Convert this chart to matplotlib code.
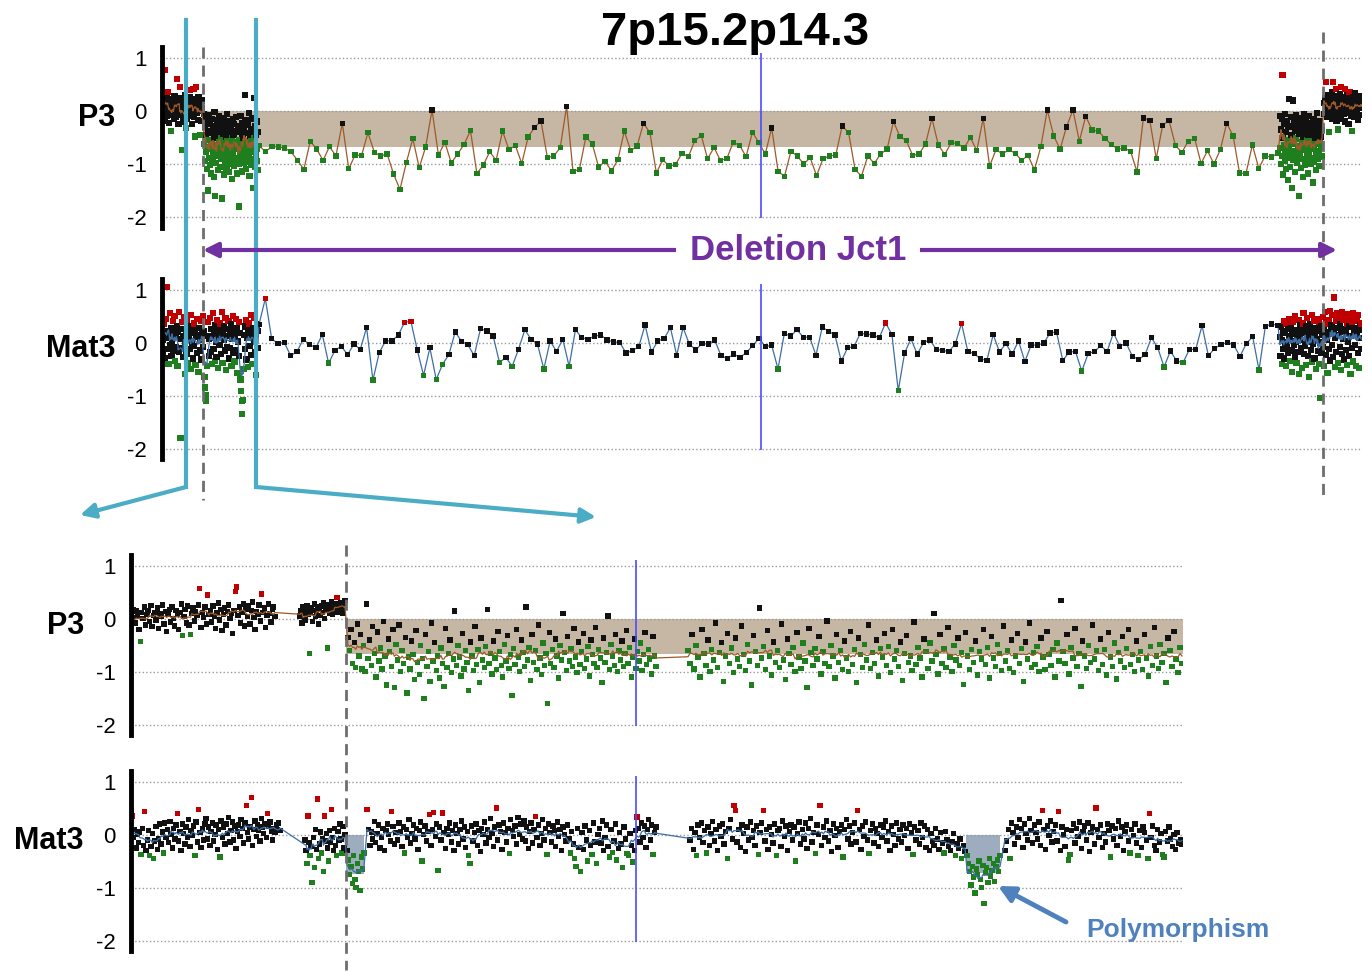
import numpy as np
import pandas as pd
import matplotlib
matplotlib.use('Agg')
import matplotlib.pyplot as plt
from matplotlib.lines import Line2D
from matplotlib.patches import FancyArrowPatch

plt.rcParams['font.family'] = ['Liberation Sans', 'DejaVu Sans']

# ---------------------------------------------------------------
# Datos: log2 ratio x100, leidos a ojo de la figura
# posiciones en unidades relativas (panel superior 0-1200, zoom 0-1052)
# ---------------------------------------------------------------
TOP_XLIM = (0, 1200)
ZOOM_XLIM = (0, 1052)
DEL_TOP = (41, 1161)          # bordes de la delecion (panel superior)
DEL_ZOOM = (215, 1052)        # borde de la delecion (zoom)
ZOOM_WIN = (24, 94)           # ventana ampliada abajo
CENTRE_TOP = 599
CENTRE_ZOOM = 505
DEL_ARROW = (41, 1175)
POLY_REGIONS = [(215, 233, -0.75), (835, 869, -0.73)]
BAND = (-0.67, 0.0)

# --- P3 superior ---
p3_top_n1 = [12, -5, 20, 3, -18, 77, 8, -10, 25, 36, -2, 15, -22, 5, 18, -37, 10, -8, 22, 0,
             -15, 28, 6, -12, 14, 60, -3, 19, -25, 9, 46, 2, -7, 24, -73, 11, -20, 16, 4, 30,
             -6, -32, 13, -14, 21, 7, -1, 26, 39, -9, 17, -24, 10, 3, 41, -11, 23, -48, 8, 46,
             -4, 15, -17, 27, 1, -45, 12, -19, 20, 5]
p3_top_d1 = [-5, -62, -30, -95, -12, -78, -45, -110, -20, -68, -150, -38, -88, -8, -55, -102, -25, -72,
             -118, -42, -60, -15, -92, -35, -80, -125, -50, -2, -70, -160, -28, -98, -48, -65, -18, -85,
             -112, -40, -58, -10, -76, -32, -105, -52, -22, -90, -66, -165, -44, -82, -14, -120, -36, -62,
             -96, -26, -74, -48, -108, -6, -56, -86, -30, -70, -115, -42, -100, -20, -64, -90, -34, -78,
             -128, -52, -16, -82, -46, -104, -24, -68, -38, -94, -58, -12, -88, -118, -40, -72, -28, -100,
             -54, -180, -36, -80, -10, -62, -92, -44, -114, -22, -76, -50, -98, -32, -66, 30, -86, -18,
             -58, -110, -42, -74, -26, -96, -60, -4, -84, -122, -48, -70, -34, -102, -56, -14, -90, -38,
             -78, -145, -52, 25, -66, -106, -28, -82, -46, -94, -20, -72, -112, -40]
p3_top_sparse = [-65, -77, -67, -68, -70, -77, -93, -110, -57, -72, -93, -67, -85, -23, -109, -83, -84, -41,
                 -78, -85, -81, -119, -148, -97, -52, -107, -68, 2, -83, -59, -98, -81, -63, -37, -118, -102,
                 -77, -93, -38, -73, -65, -99, -49, -31, -19, -88, -85, -69, 9, -114, -110, -49, -62,
                 -106, -95, -113, -92, -38, -75, -66, -23, -41, -117, -92, -104, -101, -80, -86, -56, -46,
                 -90, -69, -93, -90, -59, -65, -86, -40, -60, -81, -32, -114, -123, -76, -85, -100, -88,
                 -122, -90, -85, -83, -28, -41, -110, -123, -85, -99, -81, -72, -20, -48, -56, -84, -81,
                 -62, -14,
                 -64, -82, -60, -61, -70, -50, -75, -14, -104, -73, -81, -73, -80, -93, -84, -111, -67, 2,
                 -47, -72, -30, 2, -57, -10, -36, -38, -52, -63, -72, -70, -76, -115, -13, -18, -90, -27,
                 -18, -65, -78, -57, -52, -99, -75, -100, -73, -23, -47, -117, -118, -64, -108, -85, -87, -79]
p3_top_d2 = [-10, -70, -35, -100, -15, -85, 68, -50, -120, -25, -65, -95, -5, -78, -40, -110, -20, -88,
             -55, -130, -30, -72, 22, -60, -105, -12, -82, -45, -145, -28, 20, -92, -62, -18, -76, -38,
             -115, -52, -8, -86, -32, -98, -66, -22, -160, -44, -80, -14, -70, -108, -36, -58, -90, -26,
             -125, -48, -6, -74, -102, -40, -64, -18, -94, -54, -84, -30, -118, -46, -10, -78, -68, -34,
             -100, -56, -22, -88, -42, -135, -60, -16, -72, -96, -38, -50, -112, -26, -82, -62, -4, -90,
             -44, -76, -32, -104, -58, -20, -70, -48, -86, -36]
p3_top_n2 = [15, -5, 25, 8, 54, -12, 20, 2, 30, -40, 12, -8, 22, 5, 35, -15, 18, 54, 0, 28,
             -10, 10, 41, -18, 24, 6, -35, 16, -2, 32, 9, 45, -14, 20, 4, 27, -6, 13, 41, -20,
             22, 7, 30, -4, 11, -25, 18, 36, 1, 24, -9, 14, -38, 26, 3, 19, -12, 33, 8, 17,
             -1, 23, 10, -16, 29, 5, 21, -7, 15, 12]

# --- Mat3 superior ---
m3_top_d1 = [5, -20, 35, 12, -30, 8, 45, 105, -12, 22, -40, 15, 55, -5, 28, -25, 0, 40, -15, 18,
             50, -35, 10, -8, 30, -45, 20, 58, -18, 6, -180, 25, -10, 38, -28, 12, 48, -60, 2, 20,
             -22, 42, 15, -38, 8, -12, 30, -50, 52, 0, 18, -30, 36, -6, 24, -42, 10, 44, -20, 14,
             -55, 28, 5, -15, 40, -32, 16, 50, -8, 22, -65, -85, -100, -110, -45, 12, 38, -25, 6, 46,
             -18, 26, -40, 8, 55, -12, 20, -35, 32, 2, -28, 42, 14, -48, 24, -5, 36, -22, 10, 58,
             -38, 18, 4, 30, -15, 46, -52, 12, -8, 26, 40, -30, 16, -10, 34, -44, 6, 50, -20, 22,
             -36, 10, 44, -14, 28, -58, 2, 38, -26, 18, -70, -92, -110, -135, -108, -50, 14, 30, -12, 42,
             -32, 8, 24, -46, 36, -6, 20, 52, -24, 12, -40, 28, 4, 46, -18, 16, -62, 34, -10, 22]
m3_top_sparse = [34, 83, 7, -2, 0, -25, -17, 6, -4, -10, 15, -39, -15, -7, -23, -3, -13, 28, -71, -19,
                 3, 3, 14, 38, 40, -14, -62, -10, -70, -41, -23, 20, 2, -4, -25, 26, 22, 12, -38, -28,
                 -45, -13, 24, 6, -3, -50, 3, -17, 6, -45, 24, 9, 6, 12,
                 14, 5, 1, 0, -20, -15, -8, 33, -18, 3, 7, 28, -24, 28, -3, -14, -2, -3, 5, -25,
                 -30, -22, -28, -19, -6, 8, -8, -5, -50, 17, 12, 24, 10, 10, -24, 29, 21, 14, -35, -10,
                 -8, 17, 16, 14, 9, 37, 15, -91, -20, 7, -22, 0, 5, -13, -15,
                 -17, -3, 36, -17, -21, -31, -34, 15, -18, -2, -22, 3, -36, -5, -5, -1, 18, 20, -34, -18,
                 -17, -54, -21, -17, -6, -17, 18, -7, -1, -26, -32, -23, 9, -10, -46, -16, -35, -38, -13, -13,
                 32, -25, -11, -4, 0, -5, -26, -2, 11, -52, 30, 35, 32]
m3_top_d2 = [10, -25, 30, 5, -40, 18, -12, 40, -30, 22, 0, -45, 35, -8, 25, -20, 12, 45, -35, 6,
             28, -15, -55, 16, 38, -4, 20, -28, 50, 2, -38, 24, 8, -18, 42, -60, 14, 32, -10, 26,
             -48, 4, 36, 55, -22, 18, -6, 30, -42, 10, 46, -26, 20, -65, 2, 34, -14, 24, 52, -36,
             12, -2, 40, -30, 16, 28, -50, 6, 44, -16, 22, -40, 38, 0, -105, 30, -20, 14, 48, -8,
             26, -44, 58, 10, -24, 36, 4, -58, 20, 42, -12, 60, -34, 16, 32, -4, 52, -28, 24, 85,
             -46, 8, 40, -18, 56, 28, -38, 14, 46, -8, 34, -52, 20, 58, -22, 6, 42, -32, 26, 50,
             -14, 18, -42, 36, 54, 2, -26, 30, 44, -60, 12, 38, -10, 56, -36, 22, 48, -4, 28, -44,
             16, 40, -20, 52, 8, -48, 32, 24, -12, 36]

# --- P3 zoom ---
p3_zoom_a = [10, 2, 18, -8, 15, 5, -20, -43, 12, 0, 22, -12, 8, 16, -5, 25, -15, 6, 12, -2,
             20, -18, 10, 4, 26, -10, 14, -24, 8, 18, -6, 22, 0, -14, 16, 9, -20, 12, 28, -32,
             4, 18, -8, 24, -12, -30, 10, 20, -4, 14, 6, 26, 57, -16, 12, 2, 22, -10, 45, 8,
             16, -6, 24, 4, -18, 12, 30, -2, 18, -22, 8, 20, -12, 14, 26, 0, 10, -28, 16, 51,
             60, 6, 22, -8, 12, 28, -14, 18, 4, 24, -10, 16, 32, 2, -20, 14, 8, 26, -4, 47,
             12, 20, -16, 6, 28, 10, -6, 18, 22, 4]
p3_zoom_b = [5, 15, -8, 22, 10, -2, 18, 25, 8, -66, 12, 20, -5, 16, 28, 4, 14, 22, -10, 18,
             6, 24, 12, 30, 0, 16, 20, -55, 26, 10, 18, 32, 8, 22, 14, 28, 40, 12, 24, 18,
             30, 20, 10, 26, 35]
p3_zoom_c = [-35, -60, -20, -85, -45, -92, -10, -70, -30, -95, -50, -100, 28, -75, -40, -88, -15, -65, -110, -25,
             -80, -55, -95, -5, -70, -125, -38, -62, -90, -20, -130, -48, -78, -12, -100, -60, -85, -35, -140, -72,
             -95, -42, -68, -115, -22, -82, -105, -50, -75, -150, -30, -90, -62, -118, -8, -80, -45, -98, -70, -112,
             -55, -85, -128, -18, -92, -66, -40, -102, -76, 15, -88, -50, -72, -108, -28, -95, -60, -82, -135, -44,
             -70, -98, -15, -86, -58, -120, -36, -78, -92, -52, 18, -84, -66, -104, -42, -74, -96, -24, -62, -88,
             -110, -48, -80, -32, -94, -68, -145, -56, -86, -20, -72, -100, -40, -64, -90, 22, -78, -54, -116, -30,
             -82, -60, -96, -12, -74, -105, -46, -88, -66, -160, -26, -84, -58, -92, -38, -70, -112, -50, -78, 10,
             -64, -98, -34, -80, -56, -90, -18, -72, -102, -44, -86, -62, -28, -94, -76, -52, -108, -40, -68, -84,
             -16, -92, -58, -74, -120, -36, -82, -64, 5, -96, -48, -70, -88, -30, -100, -60, -78, -42, -90, -66,
             -22, -84, -54, -110, -72, -38, -94, -62, -80, -46, -98, -68, -26, -86, -58, -76, -104, -34, -70, -90]
p3_zoom_d = [-60, -85, -30, -95, -50, -72, -110, -20, -66, -88, -40, -100, -58, -78, -8, -92, -64, -45, -118, -70,
             -28, -84, -55, -102, -36, -76, -90, -14, -68, -98, -48, -80, -125, -32, -62, -88, 20, -74, -52, -96,
             -22, -70, -106, -44, -82, -60, -92, -10, -78, -115, -38, -66, -86, -54, -100, -26, -72, -94, -46, -80,
             -130, -18, -64, -88, -56, -76, -34, -104, -62, -84, -4, -90, -50, -70, -112, -30, -82, -60, -96, -42,
             -74, -100, -24, -86, -58, -120, -36, -68, -92, -48, -78, -12, -94, -64, -84, -40, -108, -56, -72, -28,
             -88, -52, -102, -20, -76, -60, -90, -44, -116, -66, -32, -82, -70, -98, -6, -86, -54, -74, -110, -38,
             -62, -94, -46, -80, 10, -68, -104, -30, -84, -56, -92, -16, -72, -100, -50, -78, -36, -88, -64, -124,
             -26, -70, -96, -58, -82, -42, -106, -62, -76, -20, -86, -54, -112, -34, -74, -90, -48, -66, -98, -14,
             -80, -60, -94, -40, -102, -70, -28, -84, -56, -118, -44, -76, -8, -92, -64, -86, -52, -100, -36, -72,
             -96, -24, -68, -88, -58, -110, -46, -80, 35, -62, -84, -30, -104, -54, -74, -18, -90, -66, -128, -42,
             -70, -94, -50, -82, -12, -76, -60, -98, -38, -86, -58, -106, -26, -72, -90, -46, -114, -64, -80, -34,
             -92, -56, -20, -86, -68, -100, -42, -78, -62, -96, -30, -74, -108, -52, -88, -16, -70, -94, -48, -82,
             -66, -120, -36, -60, -90, -24, -76, -102, -54, -85]

# --- Mat3 zoom ---
m3_zoom_a = [45, 35, -5, 10, -25, 0, -15, 5, -38, 12, -20, 43, -30, -10, 8, -40, -22, 2, -45, -12,
             15, -28, -8, 20, -18, 5, -35, 22, -5, 10, -15, 25, 0, -25, 12, -8, 18, 40, -12, 6,
             -30, 20, 2, -18, 14, -6, 28, -22, 8, -2, 16, -40, 24, -14, 47, 4, -24, 12, -10, 20,
             30, -8, 14, -20, 6, 22, -12, 0, 18, -28, 10, -42, 26, -6, 14, -18, 20, 2, 32, -14,
             8, 24, -10, 16, -26, 6, 18, -4, 28, 12, -16, 22, 55, 4, -8, 14, 70, -20, 10, 26,
             -4, 18, 8, -12, 30, 14, 2, 20, -6, 40, 16, 24, 6, -10, 12, 4, 18, 10, 22, 8]
m3_zoom_b = [-10, -30, -55, 35, -15, -40, -22, -90, -5, -62, 10, -28, 67, -45, -18, 5, -35, -8, -70, 35,
             -12, 2, -25, -50, 8, -15, 47, -5, -30, 12, -20, -40, 6, -10, 20, -8, -35, 15, -25, 0]
m3_zoom_c = [-30, -48, -75, -60, -92, -40, -85, -100, -55, -70, -105, -42, -65, -35]
m3_zoom_d = [47, 10, -20, 5, -8, 25, -15, 2, 18, -25, -5, 12, -30, 8, 20, 0, -12, 43, 15, -18,
             4, -10, 22, 6, -22, 14, -35, 10, -6, 28, -16, 2, 18, -8, 12, -28, 8, 24, -50, 0,
             16, -12, 6, 38, -20, 10, 42, -4, 20, -68, 14, -10, 41, 4, -26, 12, 0, 22, -14, 8,
             -30, 18, 2, -18, 10, 26, -8, 14, -24, 6, -40, -55, 16, -12, 4, 20, -20, 8, -32, 12,
             0, 24, -16, 10, -6, 30, 2, -22, 14, 50, -10, 18, 6, -28, 22, 4, -14, 12, -36, 28,
             8, -4, 16, -18, 32, 0, 20, -8, 26, -12, 14, -26, 6, 22, -16, 10, 34, -6, 18, -20,
             2, 28, -10, 12, -38, 20, 4, -14, 16, 8, -22, 24, -4, 10, -30, 14, 0, -12, 18, -8,
             -35, 6, -18, -45, -60, 12, -24, -70, 4, -28, 16, -10, -50, 8, -20, -38, 22, -14, -55, 0,
             12, -16, 26, -30, -6, 18, -22, -42, 10, -34, -12, 20, -48, -26, 4, -18, -62, 14, -8, -36,
             -40, 2, -20, -52, -30, 8, 33, 12, -14, 22, -6, 16, -24, 10, 28, -10, 18, -38, 4, 14]
m3_zoom_e = [-10, 12, -28, 4, -40, 18, -6, 22, -15, 8, -35, 14, -20, 2, 25, -12, 10, -30, 16, -4,
             20, -18, 6, -45, 12, 28, -8, 55, 45, -14, 10, -24, 18, 2, -32, 14, -10, 24, -6, 8,
             -20, 16, -38, 4, 22, 45, -12, 10, -28, 14, 0, -16, 20, -40, 8, 12, -22, 26, -4, 16,
             -30, 6, 18, -10, 14, -50, 2, 24, -18, 10, -8, 22, -26, 12, 30, -14, 4, -36, 18, 0,
             55, -20, 14, -6, 26, -12, 8, -32, 20, -2, 12, -24, 6, 18, -42, 10, 28, -8, 16, -18,
             4, 22, -14, 45, 10, -28, 16, -4, 24, -10, -36, 8, 20, -16, 12, 2, -22, 18, -6, 14,
             26, -12, 6, -30, 16, 0, -20, 22, -8, 10, -14, 18, -2, 12, -26, 20, 4, -38, 14, -10,
             8, -18, 22, -6, 16, -24, 10, -30, 2, -12, -20, 12, -8, -28, 4, -16, -35, 6, -10, -22,
             -30, -14, 2, -40, -18, -26, -8, -45, -20, -32]
m3_zoom_f = [-40, -55, -70, -95, -60, -80, -110, -65, -75, -50, -85, -100, -58, -130, -72, -62, -90, -45,
             -78, -68, -55, -88, -60, -48, -70, -40]
m3_zoom_g = [-30, -12, 10, -45, 22, 4, -18, 14, -6, 28, 12, -24, 20, 2, -10, 30, 8, -16, 18, 4,
             -8, 24, -20, 45, 10, -28, 16, -2, 26, -14, 6, 18, -12, 43, -30, 14, 0, -22, 10, -48,
             -38, 8, 20, -16, 12, -4, 24, -26, 6, 16, -10, 22, -32, 4, 14, -18, 50, 10, -6, 18,
             -24, 2, -14, 20, 8, -42, 16, -8, 12, -20, 26, -4, 14, -30, 6, 18, -12, -35, 10, -2,
             20, -16, -40, 8, -24, 14, 4, -10, -45, 40, -6, 16, -20, -30, 10, -14, 2, -38, -42, 6,
             -12, 14, -8, -22, 0, -28, 4, -16, -10, -18]

# colores
BLACK, RED, GREEN = '#111111', '#c00000', '#1f7f1f'
BROWN, BLUE_LINE = '#9c5a2a', '#3d6fa5'
BAND_COL = '#c6b6a4'
CENTRE_COL = '#4b4bff'
CYAN, PURPLE, POLY_BLUE, POLY_BOX = '#4bacc6', '#7030a0', '#4f81bd', '#9eacbf'

W, H = 1372, 972
fig = plt.figure(figsize=(W / 100, H / 100), dpi=100)


def add_axes_px(left, top, right, bottom):
    return fig.add_axes([left / W, 1 - bottom / H, (right - left) / W, (bottom - top) / H])


def seg(values, x0, x1, lo, hi, smooth):
    v = np.asarray(values, dtype=float) / 100.0
    return np.linspace(x0, x1, len(v)), v, lo, hi, smooth


def colours(v, lo, hi):
    c = np.full(len(v), BLACK, dtype=object)
    c[v > hi] = RED
    c[v < lo] = GREEN
    return list(c)


def draw_panel(ax, segs, line_col, xlim, name, centre, band=None, polys=(), size=10, sparse_size=13):
    ax.set_xlim(*xlim)
    ax.set_ylim(-2.2, 1.2)
    if band is not None:
        ax.fill_between(band, BAND[0], BAND[1], color=BAND_COL, lw=0, zorder=1)
    for x0, x1, depth in polys:
        ax.fill_between([x0, x1], depth, 0, color=POLY_BOX, lw=0, zorder=1)
    xs, ls = [], []
    for x, v, lo, hi, w in segs:
        ax.scatter(x, v, c=colours(v, lo, hi), marker='s', s=size if w > 1 else sparse_size,
                   linewidths=0, zorder=2 if w > 1 else 3)
        xs.append(x)
        ls.append(pd.Series(v).rolling(w, center=True, min_periods=1).mean().values)
    ax.plot(np.concatenate(xs), np.concatenate(ls), color=line_col, lw=0.9, zorder=2.5)
    ax.vlines(centre, -2.02, 1.1, color=CENTRE_COL, lw=1.2, zorder=4)

    ax.set_yticks([1, 0, -1, -2])
    ax.set_yticklabels(['1', '0', '-1', '-2'], fontsize=16)
    ax.set_xticks([])
    ax.tick_params(axis='y', length=0, pad=11)
    ax.grid(axis='y', ls=':', color='#9a9a9a', lw=1, zorder=0)
    for s in ['top', 'right', 'bottom']:
        ax.spines[s].set_visible(False)
    ax.spines['left'].set_linewidth(3.5)
    ax.spines['left'].set_color('black')
    ax.annotate(name, xy=(0, -0.13), xycoords=('axes fraction', 'data'), xytext=(-47, 0),
                textcoords='offset pixels', ha='right', va='center', fontsize=22, fontweight='bold')


ax_p3 = add_axes_px(162, 47.4, 1362, 227.6)
ax_m3 = add_axes_px(162, 278.9, 1362, 459.1)
ax_p3z = add_axes_px(131, 555.2, 1183, 735.3)
ax_m3z = add_axes_px(131, 771.0, 1183, 951.2)

draw_panel(ax_p3, [seg(p3_top_n1, 0.5, 40, -0.3, 0.35, 9),
                   seg(p3_top_d1, 42, 96, -0.5, 0.5, 9),
                   seg(p3_top_sparse, 97, 1116, -0.33, 0.5, 1),
                   seg(p3_top_d2, 1118, 1160, -0.5, 0.5, 9),
                   seg(p3_top_n2, 1162, 1199.5, -0.3, 0.35, 9)],
           BROWN, TOP_XLIM, 'P3', CENTRE_TOP, band=DEL_TOP, size=20, sparse_size=15)
draw_panel(ax_m3, [seg(m3_top_d1, 0.5, 96, -0.34, 0.34, 9),
                   seg(m3_top_sparse, 97, 1116, -0.37, 0.35, 1),
                   seg(m3_top_d2, 1118, 1199.5, -0.34, 0.34, 9)],
           BLUE_LINE, TOP_XLIM, 'Mat3', CENTRE_TOP, size=20, sparse_size=15)
draw_panel(ax_p3z, [seg(p3_zoom_a, 0, 144, -0.28, 0.35, 13),
                    seg(p3_zoom_b, 169, 214, -0.28, 0.35, 13),
                    seg(p3_zoom_c, 217, 525, -0.45, 0.45, 13),
                    seg(p3_zoom_d, 557, 1051, -0.45, 0.45, 13)],
           BROWN, ZOOM_XLIM, 'P3', CENTRE_ZOOM, band=DEL_ZOOM, size=15)
draw_panel(ax_m3z, [seg(m3_zoom_a, 0, 149, -0.33, 0.32, 11),
                    seg(m3_zoom_b, 174, 214, -0.33, 0.32, 11),
                    seg(m3_zoom_c, 216, 233, -0.33, 0.32, 11),
                    seg(m3_zoom_d, 236, 525, -0.33, 0.32, 11),
                    seg(m3_zoom_e, 559, 834, -0.33, 0.32, 11),
                    seg(m3_zoom_f, 836, 869, -0.33, 0.32, 11),
                    seg(m3_zoom_g, 874, 1051, -0.33, 0.32, 11)],
           BLUE_LINE, ZOOM_XLIM, 'Mat3', CENTRE_ZOOM, polys=POLY_REGIONS, size=15)


# anotaciones a nivel figura (coordenadas en pixeles desde arriba a la izquierda)
def fxy(x, y):
    return x / W, 1 - y / H


def data_px(ax, x):
    return ax.transData.transform((x, 0))[0]


for ax, x, y0, y1 in [(ax_p3, DEL_TOP[0], 47, 500), (ax_p3, DEL_TOP[1], 32, 500),
                      (ax_p3z, DEL_ZOOM[0], 545, 970)]:
    px = data_px(ax, x)
    fig.add_artist(Line2D([px / W, px / W], [1 - y0 / H, 1 - y1 / H], transform=fig.transFigure,
                          color='#6e6e6e', lw=2, ls=(0, (4, 2.5)), zorder=5))

for x, tip in [(ZOOM_WIN[0], (80, 515)), (ZOOM_WIN[1], (596, 517))]:
    px = data_px(ax_p3, x)
    fig.add_artist(Line2D([px / W, px / W], [1 - 20 / H, 1 - 487 / H], transform=fig.transFigure,
                          color=CYAN, lw=3, zorder=6))
    fig.add_artist(FancyArrowPatch(fxy(px, 487), fxy(*tip), transform=fig.transFigure,
                                   arrowstyle='-|>', mutation_scale=22, color=CYAN, lw=3,
                                   shrinkA=0, shrinkB=0, zorder=6))

xa, xb = data_px(ax_p3, DEL_ARROW[0]), data_px(ax_p3, DEL_ARROW[1])
fig.add_artist(FancyArrowPatch(fxy(xa, 250), fxy(xb, 250), transform=fig.transFigure,
                               arrowstyle='<|-|>', mutation_scale=22, color=PURPLE, lw=3,
                               shrinkA=0, shrinkB=0, zorder=6))
fig.text(798 / W, 1 - 250 / H, 'Deletion Jct1', ha='center', va='center', fontsize=25,
         fontweight='bold', color=PURPLE, zorder=7,
         bbox=dict(facecolor='white', edgecolor='none', boxstyle='square,pad=0.4'))

fig.text(735 / W, 1 - 33 / H, '7p15.2p14.3', ha='center', va='center', fontsize=34, fontweight='bold')

fig.add_artist(FancyArrowPatch(fxy(1066, 922), fxy(998, 886), transform=fig.transFigure,
                               arrowstyle='-|>', mutation_scale=24, color=POLY_BLUE, lw=3.5,
                               shrinkA=0, shrinkB=0, zorder=6))
fig.text(1086 / W, 1 - 930 / H, 'Polymorphism', ha='left', va='center', fontsize=19,
         fontweight='bold', color=POLY_BLUE)

fig.savefig('out.png', dpi=100, facecolor='white')
